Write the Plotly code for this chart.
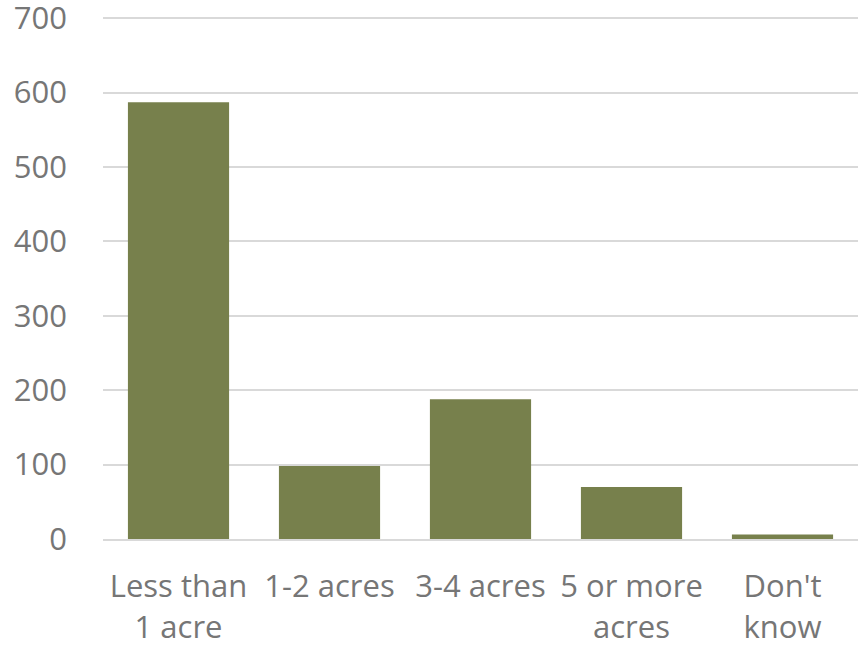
import plotly.graph_objects as go

categories = ["Less than<br>1 acre", "1-2 acres", "3-4 acres", "5 or more<br>acres", "Don't<br>know"]
values = [587, 98, 188, 70, 6]
y_ticks = [0, 100, 200, 300, 400, 500, 600, 700]

fig = go.Figure(go.Bar(
    x=categories, y=values,
    marker=dict(color="#77804C", line=dict(width=0)),
))

fig.update_layout(
    width=858, height=649,
    margin=dict(l=103, r=0, t=16, b=110),
    plot_bgcolor="white", paper_bgcolor="white",
    bargap=0.33,
    showlegend=False,
    font=dict(family="Open Sans, Liberation Sans, sans-serif", size=32, color="#767676"),
)
fig.update_yaxes(
    range=[0, 703], tickvals=y_ticks, showgrid=True, gridcolor="#D9D9D9", gridwidth=2,
    zeroline=False, showline=False, ticklabelstandoff=35, automargin=False,
    ticklabeloverflow="allow",
    tickfont=dict(size=31, color="#767676"),
)
fig.update_xaxes(
    showline=True, linecolor="#D9D9D9", linewidth=2, showgrid=False, automargin=False,
    ticklabeloverflow="allow",
    ticklabelstandoff=19, tickfont=dict(size=31, color="#767676"),
)

fig.write_html("out.html", config={"displayModeBar": False},
               post_script="document.body.style.margin='0';document.body.style.overflow='hidden';")
